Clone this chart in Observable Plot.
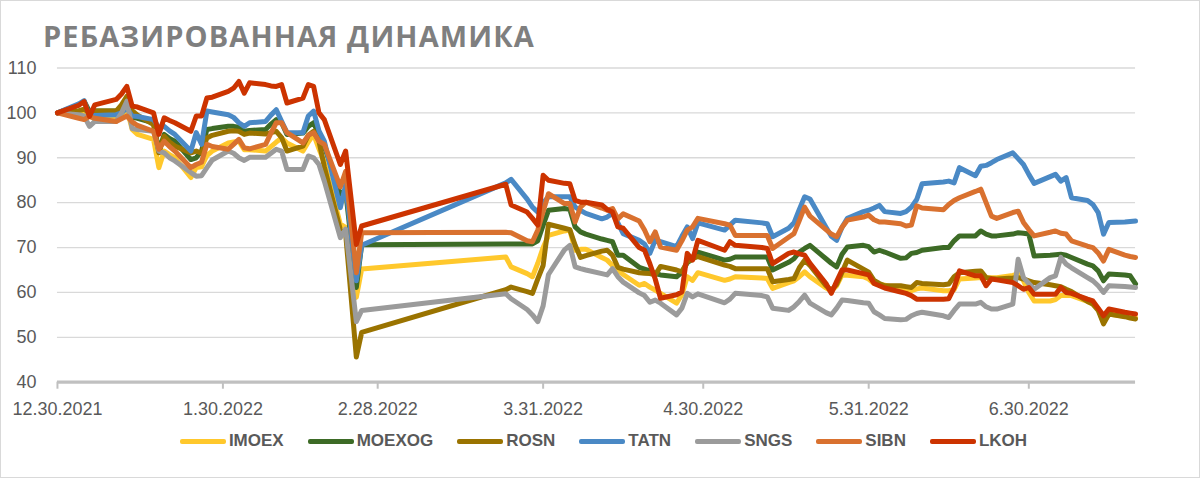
<!DOCTYPE html>
<html>
<head>
<meta charset="utf-8">
<script src="https://cdn.jsdelivr.net/npm/d3@7"></script>
<script src="https://cdn.jsdelivr.net/npm/@observablehq/plot@0.6"></script>
<style>
  html, body { margin: 0; padding: 0; background: #fff; }
  #wrap { position: relative; width: 1200px; height: 478px; box-sizing: border-box; border: 1px solid #d9d9d9; overflow: hidden; background: #fff; }
  #title { position: absolute; left: 42px; top: 20px; font-family: "Open Sans", "Liberation Sans", sans-serif; font-weight: 700; font-size: 29px; letter-spacing: 1.1px; line-height: 29px; color: #7f7f7f; white-space: nowrap; }
  #chart { position: absolute; left: -1px; top: 55px; }
  #legend { position: absolute; left: 0; top: 429px; width: 1200px; display: flex; justify-content: center; gap: 24px; padding-left: 5px; box-sizing: border-box; font-family: "Liberation Sans", Arial, sans-serif; font-weight: 700; font-size: 17px; color: #595959; }
  .item { display: flex; align-items: center; gap: 3px; line-height: 22px; }
  .sw { width: 46px; height: 5px; border-radius: 2px; }
</style>
</head>
<body>
<div id="wrap">
  <div id="title">РЕБАЗИРОВАННАЯ ДИНАМИКА</div>
  <div id="chart"></div>
  <div id="legend"></div>
</div>
<script>
const seriesNames = ["IMOEX", "MOEXOG", "ROSN", "TATN", "SNGS", "SIBN", "LKOH"];
const seriesColors = ["#ffc82c", "#3d6b26", "#9a7300", "#4a89c5", "#9b9b9b", "#d9712f", "#cc3300"];

const dates = [
"2021-12-30","2022-01-03","2022-01-04","2022-01-05","2022-01-06","2022-01-10","2022-01-11","2022-01-12","2022-01-13","2022-01-14",
"2022-01-17","2022-01-18","2022-01-19","2022-01-20","2022-01-21","2022-01-24","2022-01-25","2022-01-26","2022-01-27","2022-01-28",
"2022-01-31","2022-02-01","2022-02-02","2022-02-03","2022-02-04","2022-02-07","2022-02-08","2022-02-09","2022-02-10","2022-02-11",
"2022-02-14","2022-02-15","2022-02-16","2022-02-17","2022-02-18","2022-02-21","2022-02-22","2022-02-24","2022-02-25",
"2022-03-24","2022-03-25","2022-03-28","2022-03-29","2022-03-30","2022-03-31",
"2022-04-01","2022-04-04","2022-04-05","2022-04-06","2022-04-07","2022-04-08","2022-04-11","2022-04-12","2022-04-13","2022-04-14","2022-04-15",
"2022-04-18","2022-04-19","2022-04-20","2022-04-21","2022-04-22","2022-04-25","2022-04-26","2022-04-27","2022-04-28","2022-04-29",
"2022-05-04","2022-05-05","2022-05-06","2022-05-11","2022-05-12","2022-05-13","2022-05-16","2022-05-17","2022-05-18","2022-05-19","2022-05-20",
"2022-05-23","2022-05-24","2022-05-25","2022-05-26","2022-05-27","2022-05-30","2022-05-31",
"2022-06-01","2022-06-02","2022-06-03","2022-06-06","2022-06-07","2022-06-08","2022-06-09","2022-06-10","2022-06-14","2022-06-15","2022-06-16","2022-06-17",
"2022-06-20","2022-06-21","2022-06-22","2022-06-23","2022-06-24","2022-06-27","2022-06-28","2022-06-29","2022-06-30",
"2022-07-01","2022-07-04","2022-07-05","2022-07-06","2022-07-07","2022-07-08","2022-07-11","2022-07-12","2022-07-13","2022-07-14","2022-07-15",
"2022-07-18","2022-07-19","2022-07-20"
];

const IMOEX = [
100, 99.8, 99.6, 99.4, 98.6, 98.8, 99.5, 101.0, 96.3, 95.2, 94.1, 87.8, 91.5, 90.7, 90.0, 85.6, 87.8, 88.0, 90.5, 91.5,
93.3, 93.5, 93.7, 91.8, 91.8, 91.5, 92.5, 93.5, 94.4, 93.3, 91.5, 93.5, 95.2, 92.0, 89.0, 75.2, 74.5, 58.9, 65.2,
67.9, 65.7, 64.2, 63.5, 66.5, 70.0,
72.7, 73.7, 73.9, 69.4, 69.6, 69.6, 67.8, 67.2, 66.0, 65.0, 64.0, 61.6, 62.0, 61.2, 60.5, 59.8, 57.6, 59.5, 63.5, 62.7, 64.4,
62.7, 63.0, 63.5, 63.2, 63.1, 60.9, 62.2, 62.6, 63.5, 64.6, 63.5, 61.0, 60.3, 61.5, 63.9, 63.8, 63.5, 63.0,
62.0, 61.8, 61.6, 60.7, 60.5, 60.4, 60.8, 61.0, 60.4, 60.4, 60.6, 63.0, 63.2, 63.3, 63.3, 63.3, 63.3, 63.8, 64.1, 62.6, 60.0,
58.1, 58.1, 58.4, 59.3, 59.3, 59.3, 58.0, 57.4, 56.3, 53.3, 55.2, 54.7, 54.5, 54.4
];
const MOEXOG = [
100, 101.8, 102.6, 100.3, 100.4, 100.4, 101.0, 101.9, 99.0, 98.8, 97.8, 91.5, 95.2, 94.3, 93.7, 89.6, 90.0, 91.5, 96.3, 96.5,
97.0, 97.0, 96.8, 95.9, 96.1, 96.3, 97.5, 98.5, 97.8, 95.2, 95.5, 97.0, 97.8, 95.0, 92.6, 81.9, 82.6, 61.1, 70.6,
70.8, 70.8, 70.8, 70.8, 71.5, 75.0,
78.3, 78.7, 78.5, 74.6, 73.5, 73.0, 71.9, 71.6, 71.3, 68.3, 68.3, 65.6, 65.2, 64.8, 64.2, 63.9, 63.5, 64.5, 66.6, 67.5, 69.0,
67.2, 67.4, 67.9, 67.9, 67.9, 65.0, 66.7, 67.5, 69.0, 69.8, 70.5, 67.5, 66.5, 65.7, 68.5, 70.1, 70.5, 70.2,
69.0, 69.4, 69.0, 67.6, 67.7, 68.7, 68.9, 69.4, 70.0, 70.0, 71.5, 72.6, 72.6, 73.7, 73.0, 72.6, 72.6, 73.0, 73.3, 73.2, 73.0,
68.1, 68.3, 68.4, 68.5, 68.3, 67.8, 66.3, 65.9, 64.8, 62.6, 64.1, 63.9, 63.7, 61.9
];
const ROSN = [
100, 100.5, 100.8, 100.0, 100.4, 100.4, 101.8, 103.7, 100.5, 99.5, 97.4, 91.1, 94.8, 93.5, 92.6, 91.1, 91.5, 91.0, 94.4, 95.0,
95.9, 96.0, 95.9, 95.2, 95.5, 95.3, 95.6, 95.9, 94.5, 91.5, 92.6, 95.0, 95.9, 93.7, 88.0, 74.0, 73.0, 45.6, 51.1,
60.6, 61.2, 60.2, 59.8, 63.0, 66.0,
75.2, 74.3, 74.0, 70.5, 67.8, 68.2, 69.2, 69.4, 68.3, 65.6, 65.2, 64.4, 64.3, 64.2, 63.9, 65.8, 65.0, 64.6, 66.8, 67.5, 68.0,
66.1, 65.8, 65.3, 65.3, 65.3, 62.4, 62.9, 63.1, 65.5, 67.2, 66.0, 61.5, 60.5, 61.8, 64.5, 67.2, 65.2, 64.5,
62.7, 62.0, 61.5, 61.5, 61.3, 61.1, 62.2, 62.0, 61.7, 61.9, 63.5, 64.4, 64.7, 64.8, 63.3, 63.1, 63.0, 63.2, 63.3, 63.0, 62.6,
62.2, 61.7, 61.5, 61.3, 60.7, 60.2, 58.0, 57.4, 56.0, 53.0, 55.2, 54.6, 54.3, 54.1
];
const TATN = [
100, 102.0, 102.7, 99.3, 99.4, 99.6, 100.0, 101.1, 99.3, 99.2, 98.5, 96.7, 97.0, 96.0, 95.2, 91.5, 95.6, 93.0, 100.4, 100.2,
99.6, 99.0, 97.8, 97.0, 97.8, 98.1, 99.5, 100.7, 98.1, 95.6, 95.6, 99.3, 100.4, 96.0, 93.7, 78.9, 84.0, 62.6, 70.5,
84.4, 85.2, 80.8, 79.0, 77.9, 80.0,
81.3, 81.3, 81.3, 79.0, 78.3, 77.6, 76.4, 76.8, 77.6, 75.5, 73.1, 71.6, 70.8, 68.7, 71.6, 71.3, 70.2, 72.5, 74.6, 72.0, 75.5,
73.9, 75.0, 76.1, 75.5, 75.3, 72.4, 74.3, 75.5, 78.5, 81.3, 80.8, 74.5, 72.5, 71.6, 74.5, 76.5, 78.0, 78.3,
78.8, 79.4, 78.0, 77.6, 78.0, 79.0, 80.7, 84.2, 84.6, 84.8, 84.4, 87.8, 86.0, 88.1, 88.3, 88.9, 89.6, 91.1, 89.8, 88.5, 86.3,
84.3, 85.8, 86.3, 84.8, 85.6, 81.1, 80.5, 79.6, 77.8, 73.0, 75.6, 75.7, 75.8, 75.9
];
const SNGS = [
100, 99.6, 99.3, 97.0, 98.1, 98.1, 100.0, 102.6, 96.5, 96.3, 95.9, 91.5, 91.1, 90.0, 89.3, 86.7, 85.9, 86.0, 87.8, 89.5,
91.5, 91.0, 90.0, 89.4, 90.1, 90.1, 91.0, 91.9, 91.5, 87.4, 87.4, 90.4, 90.0, 88.5, 84.8, 72.2, 74.1, 53.5, 56.0,
59.7, 58.6, 56.2, 55.0, 53.5, 57.0,
64.0, 69.5, 70.5, 65.7, 65.3, 65.0, 64.2, 63.9, 65.3, 63.5, 62.3, 59.9, 59.3, 57.8, 58.3, 57.6, 55.0, 56.5, 59.8, 59.0, 59.7,
57.7, 58.5, 59.8, 59.3, 59.0, 56.5, 56.0, 56.8, 58.0, 59.4, 57.6, 55.5, 55.0, 56.5, 58.3, 58.2, 57.7, 57.6,
55.7, 55.0, 54.2, 53.9, 54.0, 54.8, 55.3, 55.6, 54.8, 54.4, 56.0, 57.4, 57.4, 57.8, 56.8, 56.3, 56.3, 57.4, 67.4, 63.3, 62.0,
60.7, 63.3, 63.7, 67.8, 66.3, 65.5, 63.3, 62.6, 61.5, 60.0, 61.5, 61.3, 61.2, 61.1
];
const SIBN = [
100, 98.8, 98.5, 99.2, 98.8, 98.1, 98.7, 99.3, 98.0, 97.2, 95.9, 91.9, 93.7, 92.5, 91.5, 87.8, 88.5, 89.0, 93.0, 92.5,
91.9, 93.0, 94.1, 92.2, 92.0, 93.0, 95.5, 97.8, 97.8, 95.6, 93.3, 95.0, 95.6, 93.7, 93.0, 83.5, 87.0, 64.4, 73.3,
73.4, 73.3, 71.5, 71.3, 73.9, 78.0,
82.0, 79.8, 79.8, 75.7, 79.0, 80.1, 78.8, 78.3, 78.7, 76.4, 77.5, 75.9, 73.9, 71.3, 73.5, 70.1, 69.4, 71.5, 73.9, 74.6, 76.5,
75.3, 75.0, 72.7, 72.7, 72.7, 69.8, 72.3, 73.1, 76.0, 79.0, 77.0, 74.0, 73.0, 72.4, 74.5, 76.1, 76.8, 77.2,
76.2, 75.7, 75.7, 75.3, 74.8, 75.0, 79.3, 78.8, 78.4, 79.6, 80.5, 81.1, 82.5, 83.0, 80.0, 77.0, 76.5, 77.8, 78.1, 75.6, 74.0,
72.6, 73.4, 73.7, 73.2, 73.0, 71.5, 70.3, 70.0, 68.8, 67.0, 69.6, 68.3, 68.0, 67.8
];
const LKOH = [
100, 101.7, 102.5, 99.2, 101.8, 103.0, 104.2, 105.9, 101.5, 101.3, 100.0, 95.2, 98.9, 98.3, 97.8, 95.9, 99.3, 99.3, 103.3, 103.5,
104.8, 105.5, 107.0, 104.4, 106.7, 106.3, 106.0, 105.9, 106.3, 102.2, 103.3, 106.3, 105.9, 100.0, 98.5, 88.5, 91.5, 70.7, 74.8,
84.1, 79.5, 77.9, 76.5, 75.0, 86.1,
85.0, 84.3, 84.2, 80.5, 80.1, 80.1, 79.5, 78.5, 77.9, 74.6, 74.3, 70.0, 69.4, 66.4, 63.0, 58.7, 59.5, 60.1, 68.7, 67.2, 71.6,
69.4, 71.3, 70.5, 70.0, 69.8, 66.4, 68.7, 69.0, 68.6, 68.3, 66.5, 62.0, 59.8, 62.5, 65.0, 65.0, 64.2, 63.9,
62.0, 61.5, 61.0, 60.1, 59.8, 59.3, 58.5, 58.5, 58.5, 58.6, 61.0, 64.8, 63.7, 63.7, 61.5, 63.0, 62.8, 62.2, 61.5, 60.7, 61.1,
59.6, 59.6, 59.6, 61.1, 60.0, 59.8, 58.5, 58.1, 56.5, 54.8, 56.3, 55.6, 55.4, 55.2
];

const yTicks = [40, 50, 60, 70, 80, 90, 100, 110];
const xTickDates = ["2021-12-30", "2022-01-30", "2022-02-28", "2022-03-31", "2022-04-30", "2022-05-31", "2022-06-30"];
const xDomain = ["2021-12-30", "2022-07-20"];

const parse = d3.utcParse("%Y-%m-%d");
const valuesBySeries = [IMOEX, MOEXOG, ROSN, TATN, SNGS, SIBN, LKOH];
const rows = [];
const bad = [];
seriesNames.forEach((name, i) => {
  const vals = valuesBySeries[i];
  if (vals.length !== dates.length) bad.push(name + ":" + vals.length + "/" + dates.length);
  dates.forEach((d, j) => { if (vals[j] != null) rows.push({series: name, date: parse(d), value: vals[j]}); });
});

const fmt = d => `${d.getUTCMonth() + 1}.${d.getUTCDate()}.${d.getUTCFullYear()}`;

const chart = Plot.plot({
  width: 1200,
  height: 372,
  marginLeft: 57,
  marginRight: 64,
  marginTop: 11.5,
  marginBottom: 46,
  style: {fontFamily: "'Liberation Sans', Arial, sans-serif", background: "transparent", overflow: "visible"},
  x: {type: "utc", domain: xDomain.map(parse)},
  y: {domain: [40, 110]},
  color: {domain: seriesNames, range: seriesColors},
  marks: [
    Plot.gridY(yTicks.filter(t => t > 40), {stroke: "#d9d9d9", strokeOpacity: 1, strokeWidth: 1.3}),
    Plot.axisY({ticks: yTicks, tickSize: 0, tickPadding: 21, fontSize: 18, fill: "#595959", label: null}),
    Plot.ruleY([40], {stroke: "#c0c0c0", strokeWidth: 3.3}),
    Plot.axisX({ticks: xTickDates.map(parse), tickFormat: fmt, tickSize: 7, tickPadding: 13, stroke: "#c0c0c0", strokeWidth: 2, fontSize: 18, fill: "#595959", label: null}),
    Plot.line(rows, {x: "date", y: "value", z: "series", stroke: "series", strokeWidth: 5, strokeLinejoin: "round", strokeLinecap: "round"})
  ]
});
document.getElementById("chart").appendChild(chart);

const legend = document.getElementById("legend");
seriesNames.forEach((name, i) => {
  const item = document.createElement("div");
  item.className = "item";
  const sw = document.createElement("span");
  sw.className = "sw";
  sw.style.background = seriesColors[i];
  const lab = document.createElement("span");
  lab.textContent = name;
  item.appendChild(sw); item.appendChild(lab);
  legend.appendChild(item);
});
if (bad.length) {
  const w = document.createElement("div");
  w.style.cssText = "position:absolute;left:600px;top:5px;color:red;font:12px sans-serif";
  w.textContent = "LEN " + bad.join(" ");
  document.getElementById("wrap").appendChild(w);
}
</script>
</body>
</html>
